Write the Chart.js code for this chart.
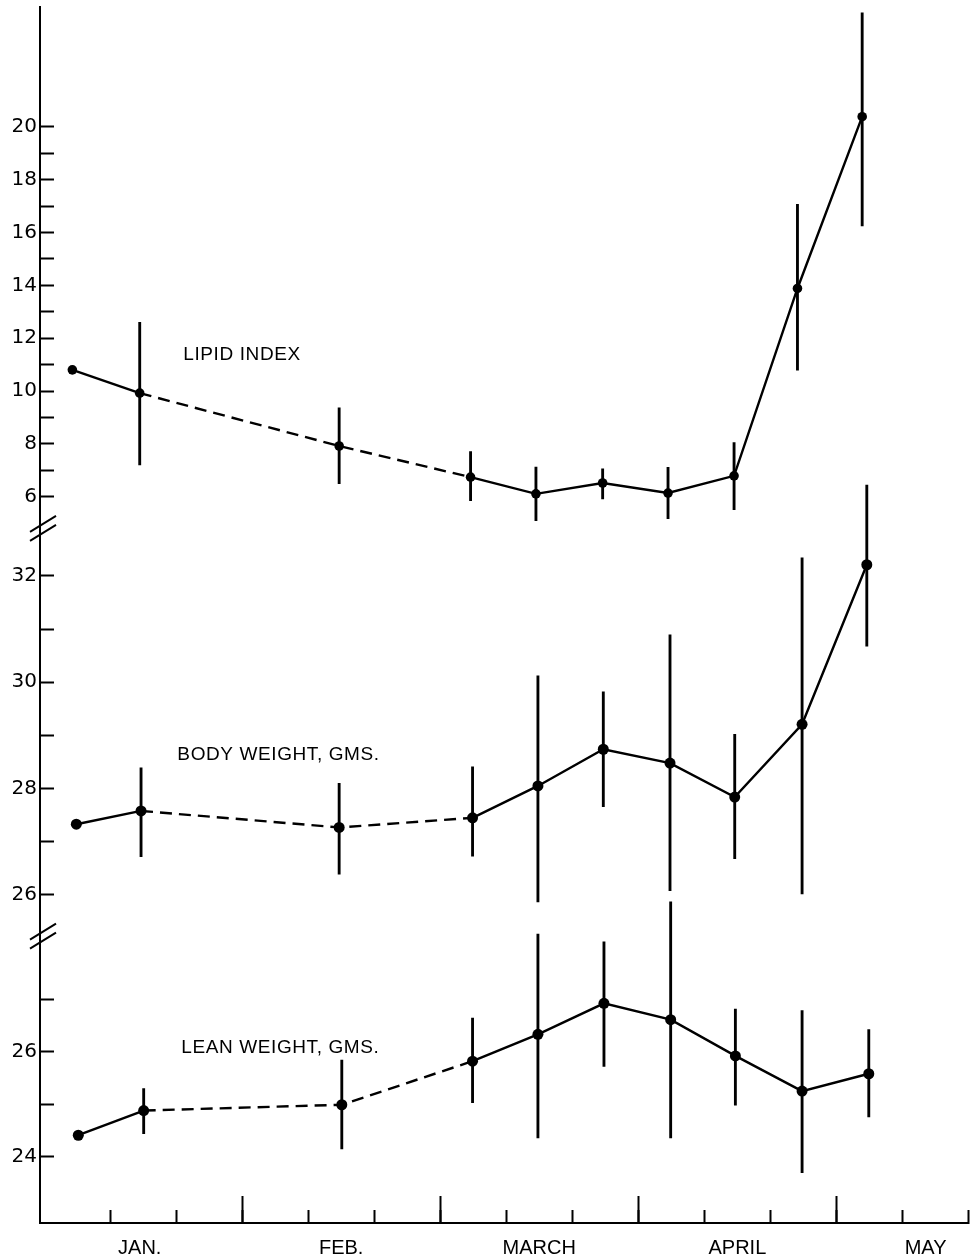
<!DOCTYPE html>
<html><head><meta charset="utf-8">
<script src="https://cdn.jsdelivr.net/npm/chart.js@4"></script>
<style>html,body{margin:0;padding:0;background:#fff;} canvas{display:block;}</style>
</head><body>
<canvas id="c" width="974" height="1259"></canvas>
<script>
// ---- data (days from start of January) ----
const lipidDays  = [4.3, 14.5, 44.7, 64.6, 74.5, 84.6, 94.5, 104.5, 114.1, 123.9];
const lipidMean  = [10.8, 9.92, 7.92, 6.74, 6.11, 6.52, 6.14, 6.79, 13.88, 20.38];
const lipidHigh  = [null, 12.6, 9.36, 7.71, 7.12, 7.06, 7.11, 8.05, 17.06, 24.31];
const lipidLow   = [null, 7.2, 6.49, 5.85, 5.09, 5.92, 5.17, 5.51, 10.79, 16.25];

const bodyDays = [4.9, 14.7, 44.7, 64.9, 74.8, 84.7, 94.8, 104.6, 114.8, 124.6];
const bodyMean = [27.33, 27.58, 27.27, 27.45, 28.05, 28.74, 28.48, 27.84, 29.21, 32.21];
const bodyHigh = [null, 28.39, 28.10, 28.41, 30.12, 29.82, 30.89, 29.02, 32.34, 33.71];
const bodyLow  = [null, 26.72, 26.39, 26.73, 25.87, 27.66, 26.08, 26.68, 26.02, 30.68];

const leanDays = [5.2, 15.1, 45.1, 64.9, 74.8, 84.8, 94.9, 104.7, 114.8, 124.9];
const leanMean = [24.41, 24.88, 24.99, 25.82, 26.33, 26.92, 26.61, 25.92, 25.25, 25.58];
const leanHigh = [null, 25.30, 25.84, 26.64, 28.24, 28.09, 28.85, 26.81, 26.78, 26.42];
const leanLow  = [null, 24.44, 24.15, 25.03, 24.36, 25.72, 24.36, 24.98, 23.70, 24.76];

const dashedSegments = [1, 2];

const xTicks = [10, 20, 30, 40, 50, 60, 70, 80, 90, 100, 110, 120, 130, 140];
const monthTicks = [30, 60, 90, 120];
const monthLabelDays = [14.5, 45, 75, 105, 133.5];
const monthLabels = ['JAN.', 'FEB.', 'MARCH', 'APRIL', 'MAY'];

const lipidTicks = [6, 7, 8, 9, 10, 11, 12, 13, 14, 15, 16, 17, 18, 19, 20];
const lipidLabeled = [6, 8, 10, 12, 14, 16, 18, 20];
const bodyTicks = [26, 27, 28, 29, 30, 31, 32];
const bodyLabeled = [26, 28, 30, 32];
const leanTicks = [24, 25, 26, 27];
const leanLabeled = [24, 26];

const panelLabels = ['LIPID INDEX', 'BODY WEIGHT, GMS.', 'LEAN WEIGHT, GMS.'];
const panelLabelAxes = ['yLipid', 'yBody', 'yLean'];
const panelLabelDays = [21.1, 20.2, 20.8];
const panelLabelValues = [11.36, 28.63, 26.07];

const breakAxes = ['yLipid', 'yLean'];
const breakValues = [4.8, 28.2];

// ---- helpers ----
function pts(days, vals) { return days.map((d, i) => ({x: d, y: vals[i]})); }
function errs(days, lo, hi) {
  const out = [];
  days.forEach((d, i) => { if (lo[i] != null) out.push({x: d, y: [lo[i], hi[i]]}); });
  return out;
}
function lineDs(data, axis, r) {
  return {type: 'line', data, yAxisID: axis, xAxisID: 'x', borderColor: '#000', backgroundColor: '#000',
    borderWidth: 2.4, pointRadius: r, pointBackgroundColor: '#000', pointBorderWidth: 0, pointHoverRadius: r,
    tension: 0, order: 1,
    segment: {borderDash: ctx => dashedSegments.includes(ctx.p0DataIndex) ? [12, 7] : undefined}};
}
function barDs(data, axis) {
  return {type: 'bar', data, yAxisID: axis, xAxisID: 'x', backgroundColor: '#000', borderWidth: 0,
    barThickness: 2.2, grouped: false, order: 2};
}
function yAxis(min, max, ticks, labeled, border) {
  return {type: 'linear', position: 'left', min, max,
    afterBuildTicks: s => { s.ticks = ticks.map(v => ({value: v})); },
    afterFit: s => { s.width = 0; s.paddingTop = 0; s.paddingBottom = 0; },
    grid: {display: true, drawOnChartArea: false, drawTicks: true, tickLength: -14, tickWidth: 2, tickColor: '#000', color: '#000'},
    border: {display: border, color: '#000', width: 2},
    ticks: {autoSkip: false, padding: 17, color: '#000', font: {family: 'DejaVu Sans', size: 20},
      callback: v => labeled.includes(v) ? String(v) : ''}};
}
function xAxis(ticks, len, border) {
  return {type: 'linear', position: 'bottom', min: -0.6, max: 140, offset: false,
    afterBuildTicks: s => { s.ticks = ticks.map(v => ({value: v})); },
    afterFit: s => { s.height = 0; s.paddingLeft = 0; s.paddingRight = 0; },
    grid: {display: true, offset: false, drawOnChartArea: false, drawTicks: true, tickLength: len, tickWidth: 2, tickColor: '#000', color: '#000'},
    border: {display: border, color: '#000', width: 2},
    ticks: {autoSkip: false, maxRotation: 0, callback: () => ''}};
}

// give the zero-width axes a real box after layout so their labels are not clipped
const axisBoxes = {
  id: 'axisBoxes',
  afterLayout(chart) {
    Object.values(chart.scales).forEach(s => {
      if (s.axis === 'y') { s.left = 0; s.width = s.right - s.left; }
      else { s.bottom = chart.height; s.height = s.bottom - s.top; }
    });
  }
};

const decor = {
  id: 'decor',
  afterDraw(chart) {
    const ctx = chart.ctx, xs = chart.scales.x;
    ctx.save();
    ctx.fillStyle = '#000';
    ctx.font = '19px "Liberation Sans"';
    ctx.letterSpacing = '0.6px';
    ctx.textBaseline = 'middle';
    ctx.textAlign = 'left';
    panelLabels.forEach((t, i) => {
      const ys = chart.scales[panelLabelAxes[i]];
      ctx.fillText(t, xs.getPixelForValue(panelLabelDays[i]), ys.getPixelForValue(panelLabelValues[i]));
    });
    ctx.strokeStyle = '#000';
    ctx.lineWidth = 2;
    breakAxes.forEach((a, i) => {
      const cy = chart.scales[a].getPixelForValue(breakValues[i]);
      const cx = chart.chartArea.left + 3;
      [-4.5, 4.5].forEach(off => {
        ctx.beginPath();
        ctx.moveTo(cx - 13, cy + off + 8);
        ctx.lineTo(cx + 13, cy + off - 8);
        ctx.stroke();
      });
    });
    ctx.restore();
  }
};

new Chart(document.getElementById('c'), {
  type: 'line',
  data: {
    datasets: [
      lineDs(pts(lipidDays, lipidMean), 'yLipid', 4.8),
      lineDs(pts(bodyDays, bodyMean), 'yBody', 5.5),
      lineDs(pts(leanDays, leanMean), 'yLean', 5.5),
      barDs(errs(lipidDays, lipidLow, lipidHigh), 'yLipid'),
      barDs(errs(bodyDays, bodyLow, bodyHigh), 'yBody'),
      barDs(errs(leanDays, leanLow, leanHigh), 'yLean')
    ]
  },
  options: {
    responsive: false,
    animation: false,
    layout: {padding: {left: 40, right: 3, top: 7, bottom: 36}},
    plugins: {legend: {display: false}, tooltip: {enabled: false}},
    events: [],
    scales: {
      x: xAxis(xTicks, -13, true),
      xMonth: xAxis(monthTicks, -27, false),
      xLabel: {type: 'linear', position: 'bottom', min: -0.6, max: 140, offset: false,
        afterBuildTicks: s => { s.ticks = monthLabelDays.map(v => ({value: v})); },
        afterFit: s => { s.height = 0; s.paddingLeft = 0; s.paddingRight = 0; },
        grid: {display: false, drawTicks: false, tickLength: 0, offset: false},
        border: {display: false},
        ticks: {autoSkip: false, maxRotation: 0, padding: 13, color: '#000',
          font: {family: 'Liberation Sans', size: 20},
          callback: v => monthLabels[monthLabelDays.indexOf(v)]}},
      yLipid: yAxis(-21.48, 24.53, lipidTicks, lipidLabeled, true),
      yBody: yAxis(19.83, 42.70, bodyTicks, bodyLabeled, false),
      yLean: yAxis(22.74, 45.88, leanTicks, leanLabeled, false)
    }
  },
  plugins: [axisBoxes, decor]
});
</script>
</body></html>
